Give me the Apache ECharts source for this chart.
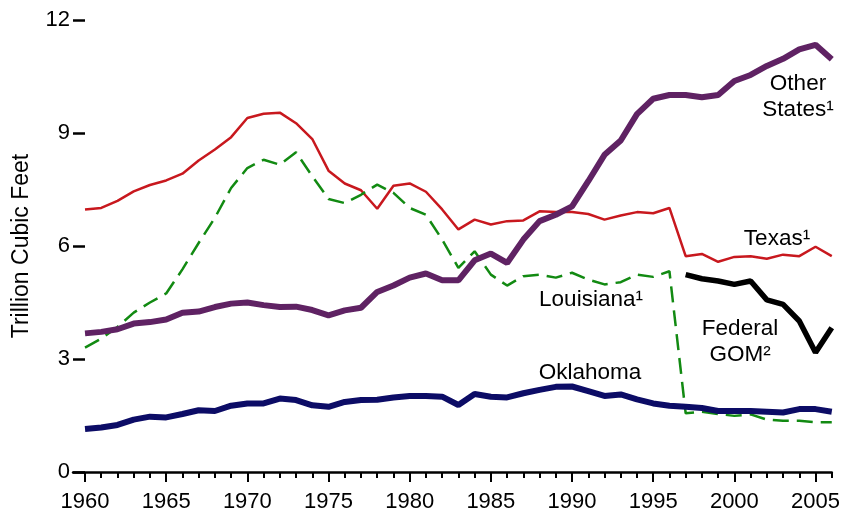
<!DOCTYPE html>
<html>
<head>
<meta charset="utf-8">
<script src="https://cdn.jsdelivr.net/npm/echarts@6/dist/echarts.min.js"></script>
<style>html,body{margin:0;padding:0;background:#fff}#c{width:843px;height:513px}</style>
</head>
<body>
<div id="c"></div>
<script>
const years = [1960,1961,1962,1963,1964,1965,1966,1967,1968,1969,1970,1971,1972,1973,1974,1975,1976,1977,1978,1979,1980,1981,1982,1983,1984,1985,1986,1987,1988,1989,1990,1991,1992,1993,1994,1995,1996,1997,1998,1999,2000,2001,2002,2003,2004,2005,2006];
const texas = [6.97,7.01,7.20,7.45,7.62,7.74,7.92,8.27,8.56,8.89,9.40,9.51,9.54,9.26,8.84,8.00,7.66,7.48,6.99,7.60,7.66,7.44,6.97,6.44,6.70,6.57,6.66,6.68,6.92,6.90,6.90,6.85,6.70,6.81,6.90,6.87,7.01,5.73,5.79,5.58,5.71,5.73,5.66,5.77,5.73,5.98,5.73];
const louisiana = [3.30,3.54,3.85,4.23,4.50,4.74,5.38,6.08,6.75,7.54,8.07,8.29,8.16,8.49,7.85,7.25,7.14,7.36,7.63,7.41,7.01,6.83,6.17,5.42,5.86,5.24,4.95,5.20,5.24,5.16,5.29,5.11,4.98,5.04,5.24,5.18,5.33,1.56,1.60,1.54,1.49,1.53,1.39,1.36,1.36,1.32,1.32];
const otherStates = [3.68,3.72,3.79,3.94,3.98,4.05,4.23,4.26,4.38,4.47,4.50,4.43,4.38,4.39,4.30,4.16,4.29,4.36,4.78,4.95,5.16,5.27,5.09,5.09,5.62,5.80,5.55,6.17,6.66,6.83,7.05,7.72,8.42,8.80,9.50,9.91,10.01,10.01,9.95,10.01,10.38,10.54,10.78,10.97,11.22,11.34,10.96];
const oklahoma = [1.14,1.18,1.25,1.39,1.47,1.45,1.54,1.64,1.62,1.76,1.82,1.82,1.95,1.91,1.77,1.73,1.86,1.91,1.92,1.98,2.02,2.02,2.00,1.78,2.07,2.00,1.98,2.09,2.18,2.26,2.27,2.15,2.02,2.06,1.93,1.82,1.76,1.73,1.70,1.62,1.62,1.62,1.60,1.58,1.67,1.67,1.60];
const gomYears = [1997,1998,1999,2000,2001,2002,2003,2004,2005,2006];
const federalGOM = [5.24,5.13,5.07,4.98,5.07,4.57,4.45,4.01,3.17,3.83];
const majorTicks = [1960,1965,1970,1975,1980,1985,1990,1995,2000,2005];

const pairs = (xs, ys) => xs.map((x, i) => [x, ys[i]]);
const FONT = '"Liberation Sans", Arial, sans-serif';

const chart = echarts.init(document.getElementById('c'), null, {renderer: 'canvas'});
const txt = (text, cx, cy) => ({type: 'text', x: cx, y: cy, style: {text, font: '22.5px ' + FONT, fill: '#000', align: 'center', verticalAlign: 'middle', lineHeight: 26}});
chart.setOption({
  animation: false,
  backgroundColor: '#fff',
  grid: {left: 73, right: 11, top: 20, bottom: 40, containLabel: false},
  xAxis: [
    {
      type: 'value', min: 1959.26, max: 2006, position: 'bottom',
      axisLine: {show: true, lineStyle: {color: '#000', width: 2.5}},
      axisTick: {show: true, customValues: years, length: 6, lineStyle: {color: '#000', width: 2}},
      axisLabel: {show: false},
      splitLine: {show: false}
    },
    {
      type: 'value', min: 1959.26, max: 2006, position: 'bottom',
      axisLine: {show: false},
      axisTick: {show: true, customValues: majorTicks, length: 10, lineStyle: {color: '#000', width: 2}},
      axisLabel: {show: true, customValues: majorTicks, fontSize: 22, color: '#000', fontFamily: FONT, margin: 19, formatter: v => String(v)},
      splitLine: {show: false}
    }
  ],
  yAxis: {
    type: 'value', min: 0, max: 12, interval: 3,
    name: 'Trillion Cubic Feet', nameLocation: 'middle', nameGap: 40, nameRotate: 90,
    nameTextStyle: {fontSize: 23, color: '#000', fontFamily: FONT},
    axisLine: {show: false},
    axisTick: {show: true, inside: true, length: 12, lineStyle: {color: '#000', width: 2.5}},
    axisLabel: {fontSize: 22, color: '#000', fontFamily: FONT, margin: 3},
    splitLine: {show: false}
  },
  series: [
    {name: 'Texas', type: 'line', data: pairs(years, texas), symbol: 'none', lineStyle: {color: '#c8181e', width: 2.5}},
    {name: 'Louisiana', type: 'line', data: pairs(years, louisiana), symbol: 'none', lineStyle: {color: '#128a12', width: 2.5, type: [16, 8]}},
    {name: 'Other States', type: 'line', data: pairs(years, otherStates), symbol: 'none', lineStyle: {color: '#5f2263', width: 6}},
    {name: 'Oklahoma', type: 'line', data: pairs(years, oklahoma), symbol: 'none', lineStyle: {color: '#0c0c66', width: 6}},
    {name: 'Federal GOM', type: 'line', data: pairs(gomYears, federalGOM), symbol: 'none', lineStyle: {color: '#000', width: 5.5}}
  ],
  graphic: [
    txt('Other\nStates¹', 798, 97),
    txt('Texas¹', 777, 239),
    txt('Louisiana¹', 591, 300),
    txt('Federal\nGOM²', 740, 342),
    txt('Oklahoma', 590, 373)
  ]
});
</script>
</body>
</html>
